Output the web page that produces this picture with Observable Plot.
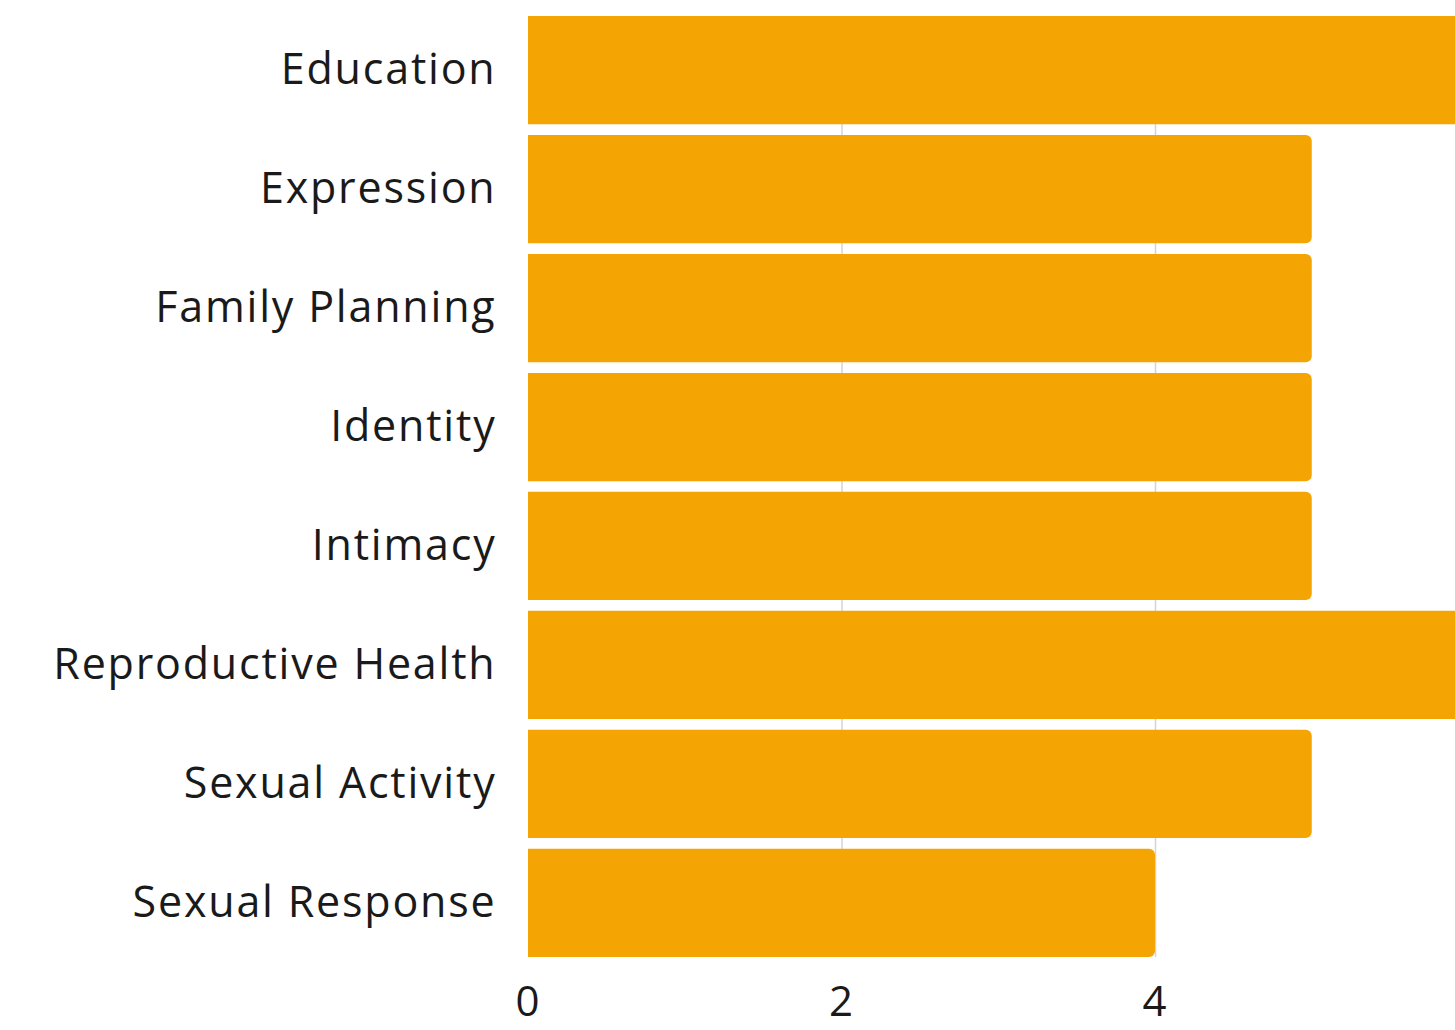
<!DOCTYPE html>
<html>
<head>
<meta charset="utf-8">
<script src="https://cdn.jsdelivr.net/npm/d3@7"></script>
<script src="https://cdn.jsdelivr.net/npm/@observablehq/plot@0.6"></script>
<style>
  html, body { margin: 0; padding: 0; background: #ffffff; }
  #chart svg { display: block; }
</style>
</head>
<body>
<div id="chart"></div>
<script>
const categories = ["Education", "Expression", "Family Planning", "Identity", "Intimacy", "Reproductive Health", "Sexual Activity", "Sexual Response"];
const values = [6, 5, 5, 5, 5, 6, 5, 4];
const xTicks = [0, 2, 4];
const gridTicks = [2, 4, 6];

const data = categories.map((c, i) => ({category: c, value: values[i]}));

const chart = Plot.plot({
  width: 1455,
  height: 1030,
  marginLeft: 528,
  marginRight: 0,
  marginTop: 16,
  marginBottom: 73,
  style: {fontFamily: "'Open Sans', sans-serif", background: "#ffffff", letterSpacing: "1.8px"},
  x: {domain: [0, 6], range: [528, 1468.5], label: null},
  y: {domain: categories, range: [16, 957], paddingInner: 0.09, paddingOuter: 0, round: false, label: null},
  marks: [
    Plot.ruleX(gridTicks, {stroke: "#d4d4d4", strokeWidth: 1.5}),
    Plot.barX(data, {x: "value", y: "category", fill: "#F5A503", rx2: 6}),
    Plot.axisY({tickSize: 0, tickPadding: 32, fontSize: 43, fill: "#1a1a1a"}),
    Plot.axisX({ticks: xTicks, tickFormat: "d", tickSize: 0, tickPadding: 29, fontSize: 42, fill: "#1a1a1a"})
  ]
});
document.getElementById("chart").appendChild(chart);
</script>
</body>
</html>
